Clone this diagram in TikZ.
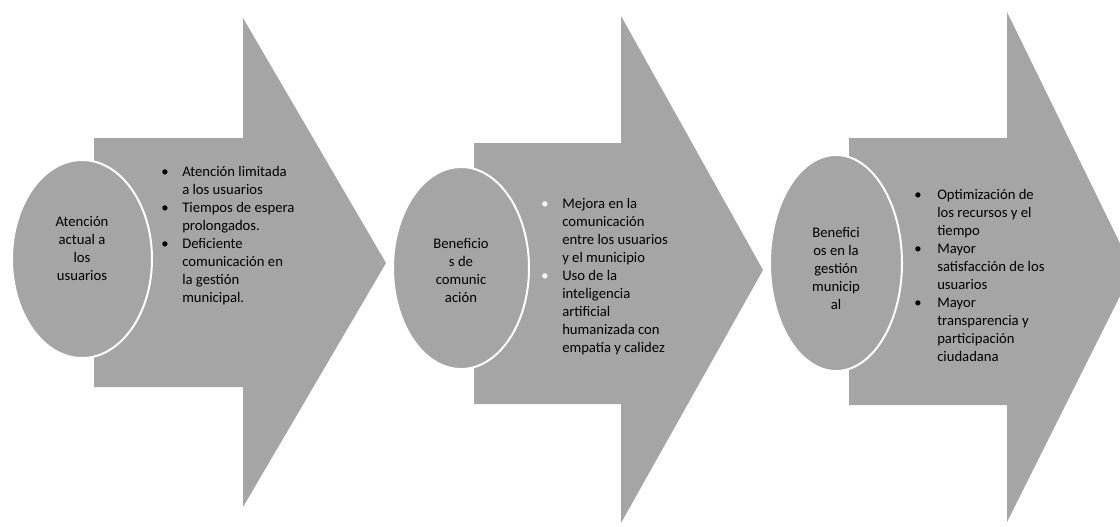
\documentclass[tikz,border=0pt]{standalone}
\usepackage{fontspec}
\setmainfont{Carlito}
\usetikzlibrary{shapes.geometric}
\definecolor{stagegray}{RGB}{165,165,165}
\tikzset{
  stage/.style={fill=stagegray},
  topic/.style={ellipse, fill=stagegray, draw=white, line width=1.5pt, inner sep=0pt},
  topictext/.style={align=center, inner sep=0pt, font=\fontsize{11pt}{13.5pt}\selectfont},
  items/.style={anchor=north west, inner sep=0pt, font=\fontsize{11pt}{13.5pt}\selectfont}
}
\begin{document}
\begin{tikzpicture}[x=0.75pt,y=-0.75pt]
      \useasboundingbox (0,0) rectangle (1120,526);
      \clip (0,0) rectangle (1120,526);
      \fill[stage] (94,138) -- (243,138) -- (243,18) -- (386,263) -- (243,507) -- (243,387) -- (94,387) -- cycle;
      \fill[stage] (474,143) -- (621,143) -- (621,16) -- (763,270) -- (621,523) -- (621,404) -- (474,404) -- cycle;
      \fill[stage] (849,138) -- (1007,138) -- (1007,12) -- (1133,270) -- (1007,522) -- (1007,405) -- (849,405) -- cycle;
      \node[topic, minimum width=105pt, minimum height=148.5pt] (e1) at (82,259) {};
      \node[topic, minimum width=102pt, minimum height=151.5pt] (e2) at (461,268) {};
      \node[topic, minimum width=99pt, minimum height=162pt] (e3) at (836,263) {};
      \node[topictext] (t1) at ([yshift=8.25pt]e1.center) {Atención\\actual a\\los\\usuarios};
      \node[topictext] (t2) at ([yshift=-1.5pt]e2.center) {Beneficio\\s de\\comunic\\ación};
      \node[topictext] (t3) at ([yshift=-3.75pt]e3.center) {Benefici\\os en la\\gestión\\municip\\al};
      \node[items] (l1) at (161,164) {\begin{tabular}{@{}p{15.75pt}@{}l@{}}
        \textbullet & Atención limitada\\
         & a los usuarios\\
        \textbullet & Tiempos de espera\\
         & prolongados.\\
        \textbullet & Deficiente\\
         & comunicación en\\
         & la gestión\\
         & municipal.
      \end{tabular}};
      \node[items] (l2) at (541,196) {\begin{tabular}{@{}p{15.75pt}@{}l@{}}
        \textcolor{white}{\textbullet} & Mejora en la\\
         & comunicación\\
         & entre los usuarios\\
         & y el municipio\\
        \textcolor{white}{\textbullet} & Uso de la\\
         & inteligencia\\
         & artificial\\
         & humanizada con\\
         & empatía y calidez
      \end{tabular}};
      \node[items] (l3) at (914,187) {\begin{tabular}{@{}p{17.25pt}@{}l@{}}
        \textbullet & Optimización de\\
         & los recursos y el\\
         & tiempo\\
        \textbullet & Mayor\\
         & satisfacción de los\\
         & usuarios\\
        \textbullet & Mayor\\
         & transparencia y\\
         & participación\\
         & ciudadana
      \end{tabular}};
    \end{tikzpicture}
\end{document}
